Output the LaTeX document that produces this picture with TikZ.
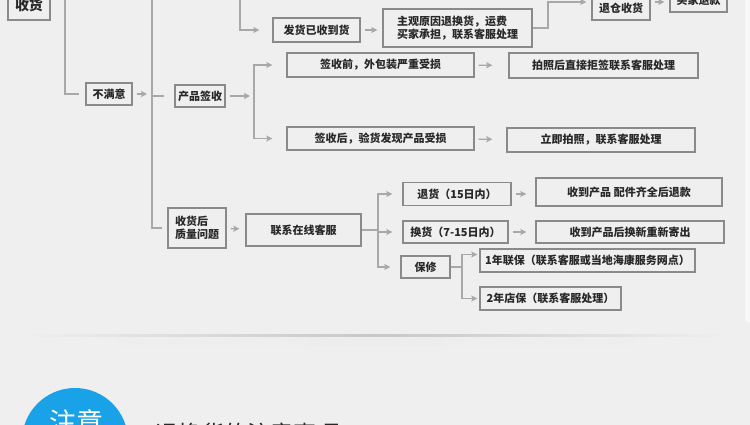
\documentclass[tikz,border=0pt]{standalone}
\usepackage{fontspec}
\setmainfont{Noto Sans CJK SC}
\usetikzlibrary{arrows.meta}
\definecolor{bggray}{RGB}{239,239,239}
\definecolor{boxgray}{RGB}{138,138,138}
\definecolor{linkgray}{RGB}{168,168,168}
\definecolor{txtgray}{RGB}{40,40,40}
\definecolor{noteblue}{RGB}{26,162,232}

\begin{document}
\begin{tikzpicture}[x=1pt, y=-1pt,
    box/.style={draw=boxgray, line width=1.3pt, text=txtgray, font=\bfseries\fontsize{11}{13}\selectfont, inner sep=0pt, minimum height=24pt},
    link/.style={draw=linkgray, line width=1.3pt},
    arr/.style={link, -{Stealth[length=6pt, width=6pt, inset=1pt]}, shorten <=4pt}]
    % Page and background
    \clip (0,0) rectangle (750,425);
    \fill[bggray] (0,0) rectangle (750,425);
    \fill[white!55!bggray] (745,0) rectangle (750,322);

    % Branches coming from above the picture
    \coordinate (leftTop) at (65,0);
    \coordinate (busTop) at (152,0);
    \coordinate (busBot) at (152,231);
    \coordinate (shipTop) at (240,0);

    % Top row
    \node[box, minimum width=42pt, minimum height=30pt, font=\bfseries\fontsize{14}{16}\selectfont] (shouhuo) at (29,5) {收货};
    \node[box, minimum width=87pt] (fahuo) at (316.5,30) {发货已收到货};
    \node[box, minimum width=149pt, minimum height=38pt, align=left] (zhuguan) at (457.5,28) {主观原因退换货，运费\\买家承担，联系客服处理};
    \node[box, minimum width=58pt] (tuicang) at (621,8) {退仓收货};
    \node[box, minimum width=57pt] (tuikuan) at (698.5,0) {买家退款};

    % Not satisfied: signing
    \node[box, minimum width=46pt, minimum height=22pt] (bumanyi) at (109,94) {不满意};
    \node[box, minimum width=50pt, minimum height=22pt] (chanpin) at (200,96) {产品签收};
    \node[box, minimum width=187pt] (qianqian) at (380.5,65) {签收前，外包装严重受损};
    \node[box, minimum width=189pt, minimum height=25pt] (paizhao) at (603.5,65.5) {拍照后直接拒签联系客服处理};
    \node[box, minimum width=187pt, minimum height=23pt] (qianhou) at (380.5,138.5) {签收后，验货发现产品受损};
    \node[box, minimum width=188pt] (lijipz) at (601,140) {立即拍照，联系客服处理};

    % Quality problems after receipt
    \node[box, minimum width=58pt, minimum height=40pt, align=left] (zhiliang) at (197,228) {收货后\\质量问题};
    \node[box, minimum width=115pt, minimum height=32pt] (kefu) at (303.5,230) {联系在线客服};
    \node[box, minimum width=108pt, minimum height=23pt] (tuihuo) at (457,194) {退货（15日内）};
    \node[box, minimum width=105pt, minimum height=22pt] (huanhuo) at (455.5,232) {换货（7-15日内）};
    \node[box, minimum width=49pt, minimum height=22pt] (baoxiu) at (425.5,267) {保修};
    \node[box, minimum width=186pt, minimum height=28pt] (tuikuanB) at (629,192) {收到产品 配件齐全后退款};
    \node[box, minimum width=188pt, minimum height=22pt] (jichu) at (630,232) {收到产品后换新重新寄出};
    \node[box, minimum width=215pt, minimum height=23pt] (lianbao) at (587.5,260.5) {1年联保（联系客服或当地海康服务网点）};
    \node[box, minimum width=141pt, minimum height=23pt] (dianbao) at (550.5,298.5) {2年店保（联系客服处理）};

    \coordinate (splitA) at (254,96);
    \coordinate (turnA) at (548,2);
    \coordinate (splitB) at (378,230);
    \coordinate (splitC) at (462,267);

    % Connectors, upper part
    \draw[link, shorten >=6pt] (leftTop) |- (bumanyi);
    \draw[arr, shorten >=5pt] (bumanyi) -- (bumanyi -| busTop);
    \draw[link] (busTop) |- ([xshift=-5pt]zhiliang.west);
    \draw[link, shorten >=10pt] (chanpin.west -| busTop) -- (chanpin.west);
    \draw[arr, shorten >=4pt] (chanpin) -- (splitA);
    \draw[arr, shorten >=14pt, shorten <=0pt] (splitA) |- (qianqian);
    \draw[arr, shorten >=14pt, shorten <=0pt] (splitA) |- (qianhou);
    \draw[arr, shorten >=16pt] (qianqian) -- (paizhao);
    \draw[arr, shorten >=14pt] (qianhou) -- (lijipz);
    \draw[arr, shorten >=13pt, shorten <=0pt] (shipTop) |- (fahuo);
    \draw[arr, shorten >=5pt] (fahuo) -- (zhuguan.west |- fahuo);
    \draw[arr, shorten >=5pt, shorten <=0pt] (zhuguan.east) -| (turnA) -- (turnA -| tuicang.west);
    \draw[arr, shorten >=5pt] (tuicang.east |- turnA) -- (tuikuan.west |- turnA);

    % Connectors, lower part
    \draw[arr, shorten >=6pt] (zhiliang) -- (kefu);
    \draw[link] (kefu) -- (splitB);
    \draw[arr, shorten >=10pt, shorten <=0pt] (splitB) |- (tuihuo);
    \draw[arr, shorten >=10pt, shorten <=0pt] (splitB) |- (huanhuo);
    \draw[arr, shorten >=10pt, shorten <=0pt] (splitB) |- (baoxiu);
    \draw[arr, shorten >=9pt] (tuihuo) -- (tuikuanB.west |- tuihuo);
    \draw[arr, shorten >=9pt] (huanhuo) -- (jichu);
    \draw[link] (baoxiu) -- (splitC);
    \draw[arr, shorten >=2pt, shorten <=0pt] (splitC) |- ([yshift=6pt]lianbao.west);
    \draw[arr, shorten >=2pt, shorten <=0pt] (splitC) |- (dianbao);

    % Separator shadow
    \shade[left color=bggray, right color=bggray, middle color=black!22] (20,334) rectangle (730,337.5);
    \shade[left color=bggray, right color=bggray, middle color=black!7] (20,337.5) rectangle (730,345);

    % Note heading
    \node[circle, fill=noteblue, minimum size=106pt, inner sep=0pt] (noteDot) at (75,441) {};
    \node[text=white, font=\fontsize{27}{30}\selectfont, inner sep=0pt] (noteLabel) at (76,422) {注意};
    \node[anchor=west, text=txtgray, font=\fontsize{23}{26}\selectfont, inner sep=0pt] (noteTitle) at (155,434) {退换货的注意事项};
\end{tikzpicture}
\end{document}
